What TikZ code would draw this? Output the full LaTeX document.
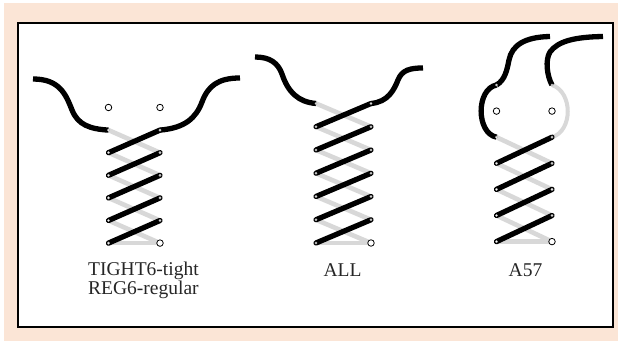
\documentclass[tikz,border=0pt]{standalone}
\usepackage{fontspec}
\setmainfont{Liberation Serif}
\definecolor{peach}{RGB}{251,229,214}
\definecolor{lacegray}{RGB}{216,216,216}
\tikzset{
  overlace/.style={line width=5.3pt, black, line cap=round},
  underlace/.style={line width=4.6pt, lacegray, line cap=round},
  freelace/.style={line width=5.3pt, black, line cap=butt},
  freeunder/.style={line width=4pt, lacegray, line cap=butt},
  hole/.style={circle, draw=black, fill=white, line width=0.8pt, inner sep=0pt, minimum size=6.5pt},
  ring/.style={circle, draw=gray!70, fill=white, line width=0.4pt, inner sep=0pt, minimum size=2.4pt},
  lbl/.style={font=\fontsize{19.5}{17.3}\selectfont, text=black!85, anchor=base west, inner sep=0pt}
}
\begin{document}
\begin{tikzpicture}[x=1pt,y=-1pt]
\useasboundingbox (0,0) rectangle (619,344);
\fill[white] (0,0) rectangle (619,344);
\fill[peach] (4,3) rectangle (618,341);
\draw[line width=2pt, fill=white] (18,23) rectangle (613,327);

% eyelet coordinates
\foreach \k in {0,...,6} {
  \coordinate (aL\k) at (108.5, 107.5+22.6*\k);
  \coordinate (aR\k) at (160, 107.5+22.6*\k);
  \coordinate (bL\k) at (316, 103.5+23.25*\k);
  \coordinate (bR\k) at (371, 103.5+23.25*\k);
  \coordinate (cL\k) at (496.5, 85+26.1*\k);
  \coordinate (cR\k) at (552, 85+26.1*\k);
}
% free lace ends
\coordinate (aEndL) at (33,79);
\coordinate (aEndR) at (240,78);
\coordinate (bEndL) at (255,57);
\coordinate (bEndR) at (423,68);
\coordinate (cEndL) at (550,36.5);
\coordinate (cEndR) at (603,36.5);

% ---------- panel 1: TIGHT6 / REG6 ----------
\foreach \i/\j in {1/2,2/3,3/4,4/5,5/6,6/6} \draw[underlace] (aL\i) -- (aR\j);
\draw[freelace] (aEndL) .. controls (60,79) and (66,95) .. (72,110) .. controls (78,125) and (90,129) .. (aL1);
\draw[freelace] (aR1) .. controls (185,128) and (196,118) .. (202,102) .. controls (208,86) and (218,78) .. (aEndR);
\foreach \i/\j in {2/1,3/2,4/3,5/4,6/5} {
  \draw[overlace] (aL\i) -- (aR\j);
  \node[ring] at (aL\i) {};
  \node[ring] at (aR\j) {};
}
\node[ring] at (aL1) {};
\node[hole] (ha1) at (aL0) {};
\node[hole] (ha2) at (aR0) {};
\node[hole] (ha3) at (aR6) {};

% ---------- panel 2: ALL ----------
\foreach \i/\j in {0/1,1/2,2/3,3/4,4/5,5/6,6/6} \draw[underlace] (bL\i) -- (bR\j);
\draw[freelace] (bEndL) .. controls (270,57) and (278,63) .. (282,74) .. controls (288,92) and (298,102) .. (bL0);
\draw[freelace] (bR0) .. controls (388,102) and (394,90) .. (398,80) .. controls (402,70) and (410,68) .. (bEndR);
\foreach \i/\j in {1/0,2/1,3/2,4/3,5/4,6/5} {
  \draw[overlace] (bL\i) -- (bR\j);
  \node[ring] at (bL\i) {};
  \node[ring] at (bR\j) {};
}
\node[ring] at (bL0) {};
\node[hole] (hb1) at (bR6) {};

% ---------- panel 3: A57 ----------
\foreach \i/\j in {2/3,3/4,4/5,5/6,6/6} \draw[underlace] (cL\i) -- (cR\j);
\draw[freeunder] (cR0) .. controls (573,92) and (573,131) .. (cR2);
\draw[freelace] (cL0) .. controls (476,89) and (476,133) .. (cL2);
\draw[freelace] (cL0) .. controls (505,80) and (507,70) .. (509,60) .. controls (512,45) and (525,37) .. (cEndL);
\draw[freelace] (cR0) .. controls (547,76) and (545,60) .. (550,52) .. controls (558,41) and (575,37) .. (cEndR);
\foreach \i/\j in {3/2,4/3,5/4,6/5} {
  \draw[overlace] (cL\i) -- (cR\j);
  \node[ring] at (cL\i) {};
  \node[ring] at (cR\j) {};
}
\node[ring] at (cL0) {};
\node[ring] at (cR0) {};
\node[ring] at (cL2) {};
\node[hole] (hc1) at (cL1) {};
\node[hole] (hc2) at (cR1) {};
\node[hole] (hc3) at (cR6) {};

% ---------- labels ----------
\node[lbl, align=left] (t1) at (88,294.3) {TIGHT6-tight\\REG6-regular};
\node[lbl, anchor=base] (t3) at (342.5,277) {ALL};
\node[lbl, anchor=base] (t4) at (525.5,277) {A57};
\end{tikzpicture}
\end{document}
